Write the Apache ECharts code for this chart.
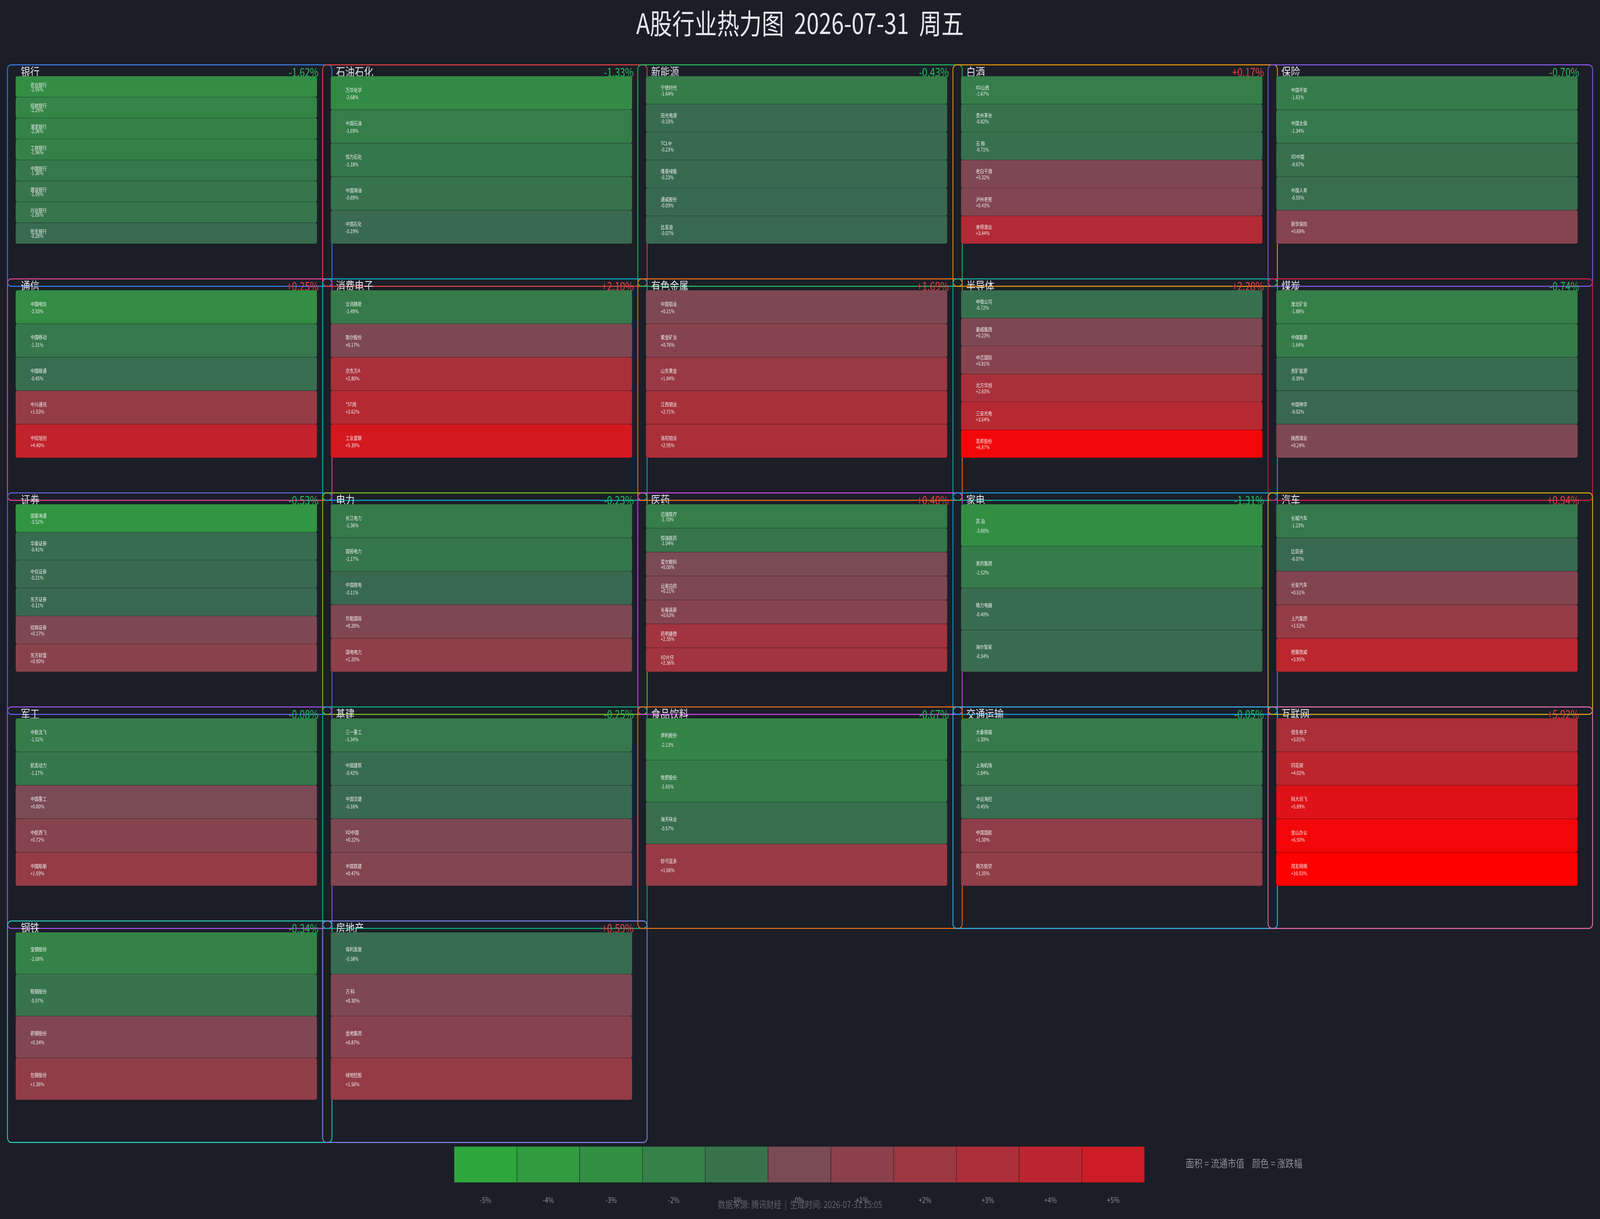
<!DOCTYPE html>
<html>
<head>
<meta charset="utf-8">
<title>A股行业热力图</title>
<script src="https://cdn.jsdelivr.net/npm/echarts@6/dist/echarts.min.js"></script>
<style>
  html, body { margin: 0; padding: 0; background: #1b1e27; overflow: hidden; }
  #chart { width: 5148px; height: 3121px; transform-origin: 0 0; }
</style>
</head>
<body>
<div id="chart"></div>
<script>
// sectors, laid out 5 per row
const sectorNames = ['银行', '石油石化', '新能源', '白酒', '保险',
  '通信', '消费电子', '有色金属', '半导体', '煤炭',
  '证券', '电力', '医药', '家电', '汽车',
  '军工', '基建', '食品饮料', '交通运输', '互联网',
  '钢铁', '房地产'];
const sectorChanges = [-1.62, -1.33, -0.43, 0.17, -0.70,
  0.25, 2.10, 1.69, 2.28, -0.74,
  -0.53, -0.23, 0.40, -1.31, 0.94,
  -0.08, -0.25, -0.67, -0.05, 5.92,
  -0.34, 0.59];

const stockNames = [
  ['农业银行', '招商银行', '浦发银行', '工商银行', '中国银行', '建设银行', '兴业银行', '民生银行'],
  ['万华化学', '中国石油', '恒力石化', '中国海油', '中国石化'],
  ['宁德时代', '阳光电源', 'TCL中', '隆基绿能', '通威股份', '比亚迪'],
  ['XD山西', '贵州茅台', '五 粮', '老白干酒', '泸州老窖', '舍得酒业'],
  ['中国平安', '中国太保', 'XD中国', '中国人寿', '新华保险'],
  ['中国电信', '中国移动', '中国联通', '中兴通讯', '中际旭创'],
  ['立讯精密', '歌尔股份', '京东方A', '*ST闻', '工业富联'],
  ['中国铝业', '紫金矿业', '山东黄金', '江西铜业', '洛阳钼业'],
  ['中微公司', '豪威集团', '中芯国际', '北方华创', '三安光电', '圣邦股份'],
  ['淮北矿业', '中煤能源', '兖矿能源', '中国神华', '陕西煤业'],
  ['国泰海通', '华泰证券', '中信证券', '东方证券', '招商证券', '东方财富'],
  ['长江电力', '国投电力', '中国核电', '华能国际', '国电电力'],
  ['迈瑞医疗', '恒瑞医药', '爱尔眼科', '云南白药', '长春高新', '药明康德', 'XD片仔'],
  ['苏 泊', '美的集团', '格力电器', '海尔智家'],
  ['长城汽车', '比亚迪', '长安汽车', '上汽集团', '德赛西威'],
  ['中航沈飞', '航发动力', '中国重工', '中航西飞', '中国船舶'],
  ['三一重工', '中国建筑', '中国交建', 'XD中国', '中国铁建'],
  ['伊利股份', '牧原股份', '海天味业', '妙可蓝多'],
  ['大秦铁路', '上海机场', '中远海控', '中国国航', '南方航空'],
  ['恒生电子', '同花顺', '科大讯飞', '金山办公', '用友网络'],
  ['宝钢股份', '鞍钢股份', '新钢股份', '包钢股份'],
  ['保利发展', '万 科', '金地集团', '绿地控股']
];
const stockChanges = [
  [-2.95, -2.29, -2.06, -1.96, -1.30, -1.09, -1.05, -0.28],
  [-2.68, -1.69, -1.18, -0.89, -0.19],
  [-1.64, -0.33, -0.23, -0.23, -0.09, -0.07],
  [-1.67, -0.82, -0.71, 0.32, 0.43, 3.44],
  [-1.61, -1.34, -0.67, -0.55, 0.69],
  [-2.93, -1.31, -0.45, 1.53, 4.40],
  [-1.49, 0.17, 2.80, 3.62, 5.39],
  [0.21, 0.76, 1.84, 2.71, 2.95],
  [-0.72, 0.23, 0.81, 2.83, 3.64, 6.87],
  [-1.88, -1.64, -0.39, -0.02, 0.24],
  [-3.52, -0.41, -0.21, -0.11, 0.17, 0.90],
  [-1.36, -1.17, -0.11, 0.28, 1.20],
  [-1.70, -1.04, 0.00, 0.21, 0.63, 2.35, 2.36],
  [-3.00, -1.52, -0.40, -0.34],
  [-1.23, -0.07, 0.51, 1.52, 3.95],
  [-1.52, -1.17, 0.00, 0.72, 1.59],
  [-1.34, -0.42, -0.16, 0.22, 0.47],
  [-2.13, -1.65, -0.57, 1.68],
  [-1.39, -1.04, -0.45, 1.30, 1.35],
  [3.01, 4.02, 5.89, 6.90, 10.03],
  [-2.08, -0.97, 0.34, 1.36],
  [-0.38, 0.30, 0.87, 1.56]
];

const legendSteps = [-5, -4, -3, -2, -1, 0, 1, 2, 3, 4, 5];
const legendLabels = ['-5%', '-4%', '-3%', '-2%', '-1%', '0%', '+1%', '+2%', '+3%', '+4%', '+5%'];

// frame colour per sector
const frameColors = ['#3b82f6', '#ef4444', '#22c55e', '#f59e0b', '#8b5cf6',
  '#ec4899', '#06b6d4', '#f97316', '#14b8a6', '#e11d48',
  '#6366f1', '#84cc16', '#d946ef', '#0ea5e9', '#eab308',
  '#a855f7', '#10b981', '#f97316', '#38bdf8', '#f472b6',
  '#2dd4bf', '#818cf8'];

const COLS = 5;
const COL_GAP = 44;   // px between cell blocks
const ROW_GAP = 119;
const FONT = '"Noto Sans CJK SC", "Noto Sans", sans-serif';

// the page is drawn at 5148 x 3121 and squeezed to whatever the window gives
const el = document.getElementById('chart');
el.style.transform = 'scale(' + (window.innerWidth / 5148) + ',' + (window.innerHeight / 3121) + ')';

function mix(a, b, t) {
  return 'rgb(' + a.map((v, j) => Math.round(v + (b[j] - v) * t)).join(',') + ')';
}
function heatColor(chg) {
  if (chg < 0) return mix([57, 103, 81], [46, 168, 58], Math.min(-chg / 5, 1));
  if (chg <= 5) return mix([122, 74, 85], [204, 28, 37], chg / 5);
  return mix([204, 28, 37], [255, 0, 0], Math.min((chg - 5) / 2.5, 1));
}
function fmt(chg) {
  return (chg >= 0 ? '+' : '') + chg.toFixed(2) + '%';
}

const panelData = sectorNames.map((n, k) => [k % COLS, Math.floor(k / COLS), k]);

const stockData = [];
const stockLabel = [];
stockNames.forEach((names, k) => {
  names.forEach((name, i) => {
    stockData.push([k % COLS, Math.floor(k / COLS), i, names.length, stockChanges[k][i]]);
    stockLabel.push(name);
  });
});

function renderFrame(params, api) {
  const p = api.coord([api.value(0), api.value(1)]);
  const s = api.size([1, 1]);
  const w = s[0] - COL_GAP, h = s[1] - ROW_GAP;
  return {
    type: 'rect',
    shape: { x: p[0] - 26, y: p[1] - 29, width: w + 74, height: h + 138, r: 12 },
    style: { fill: 'none', stroke: frameColors[api.value(2)], lineWidth: 2.5 }
  };
}

function renderHeader(params, api) {
  const k = api.value(2);
  const p = api.coord([api.value(0), api.value(1)]);
  const s = api.size([1, 1]);
  const w = s[0] - COL_GAP;
  const chg = sectorChanges[k];
  return {
    type: 'group',
    children: [{
      type: 'text',
      style: { text: sectorNames[k], x: p[0] + 17, y: p[1] - 11, fill: '#e3e5ea',
        fontSize: 30, fontFamily: FONT, align: 'left', verticalAlign: 'middle' }
    }, {
      type: 'text',
      style: { text: fmt(chg), x: p[0] + w + 5, y: p[1] - 10, fill: chg >= 0 ? '#ef4444' : '#22c55e',
        fontSize: 30, fontFamily: FONT, align: 'right', verticalAlign: 'middle' }
    }]
  };
}

function renderStock(params, api) {
  const p = api.coord([api.value(0), api.value(1)]);
  const s = api.size([1, 1]);
  const w = s[0] - COL_GAP, h = s[1] - ROW_GAP;
  const i = api.value(2), n = api.value(3), chg = api.value(4);
  const ch = h / n;
  const y = p[1] + i * ch;
  return {
    type: 'group',
    children: [{
      type: 'rect',
      shape: { x: p[0], y: y, width: w, height: ch, r: 5 },
      style: { fill: heatColor(chg), stroke: 'rgba(0,0,0,0.22)', lineWidth: 1.2 }
    }, {
      type: 'text',
      style: { text: stockLabel[params.dataIndex], x: p[0] + 48, y: y + ch * 0.405, fill: '#f2f2f2',
        fontSize: 13, fontFamily: FONT, align: 'left', verticalAlign: 'middle' }
    }, {
      type: 'text',
      style: { text: fmt(chg), x: p[0] + 48, y: y + ch * 0.63, fill: '#f2f2f2',
        fontSize: 13, fontFamily: FONT, align: 'left', verticalAlign: 'middle' }
    }]
  };
}

const chart = echarts.init(el, null, { renderer: 'canvas' });
chart.setOption({
  backgroundColor: '#1b1e27',
  animation: false,
  title: [{
    text: 'A股行业热力图  2026-07-31  周五',
    left: 'center', top: 24, padding: 0,
    textStyle: { color: '#e6e8ec', fontSize: 72, fontWeight: 'normal', fontFamily: FONT }
  }, {
    text: '面积 = 流通市值    颜色 = 涨跌幅',
    left: 3815, top: 2965, padding: 0,
    textStyle: { color: '#8b8f99', fontSize: 27, fontWeight: 'normal', fontFamily: FONT }
  }, {
    text: '数据来源: 腾讯财经  |  生成时间: 2026-07-31 15:05',
    left: 'center', top: 3072, padding: 0,
    textStyle: { color: '#60646f', fontSize: 24, fontWeight: 'normal', fontFamily: FONT }
  }],
  grid: [
    { left: 50, right: 28, top: 195, bottom: 186, outerBoundsMode: 'none' },
    { left: 1461, right: 1465, top: 2935, height: 93, outerBoundsMode: 'none' }
  ],
  xAxis: [
    { gridIndex: 0, type: 'value', min: 0, max: 5, show: false },
    { gridIndex: 1, type: 'category', data: legendLabels,
      axisLine: { show: false }, axisTick: { show: false },
      axisLabel: { color: '#8b8f99', fontSize: 20, margin: 34, fontFamily: FONT } }
  ],
  yAxis: [
    { gridIndex: 0, type: 'value', min: 0, max: 5, inverse: true, show: false },
    { gridIndex: 1, type: 'value', min: 0, max: 1, show: false }
  ],
  series: [{
    type: 'custom', name: 'frame', xAxisIndex: 0, yAxisIndex: 0, z: 1, silent: true,
    renderItem: renderFrame, data: panelData
  }, {
    type: 'custom', name: 'header', xAxisIndex: 0, yAxisIndex: 0, z: 2, silent: true,
    renderItem: renderHeader, data: panelData
  }, {
    type: 'custom', name: 'stock', xAxisIndex: 0, yAxisIndex: 0, z: 3, silent: true,
    renderItem: renderStock, data: stockData
  }, {
    type: 'bar', name: 'legend', xAxisIndex: 1, yAxisIndex: 1, silent: true,
    barCategoryGap: 0,
    data: legendSteps.map(v => ({ value: 1, itemStyle: { color: heatColor(v) } })),
    itemStyle: { borderColor: 'rgba(0,0,0,0.18)', borderWidth: 1 }
  }]
});
</script>
</body>
</html>
